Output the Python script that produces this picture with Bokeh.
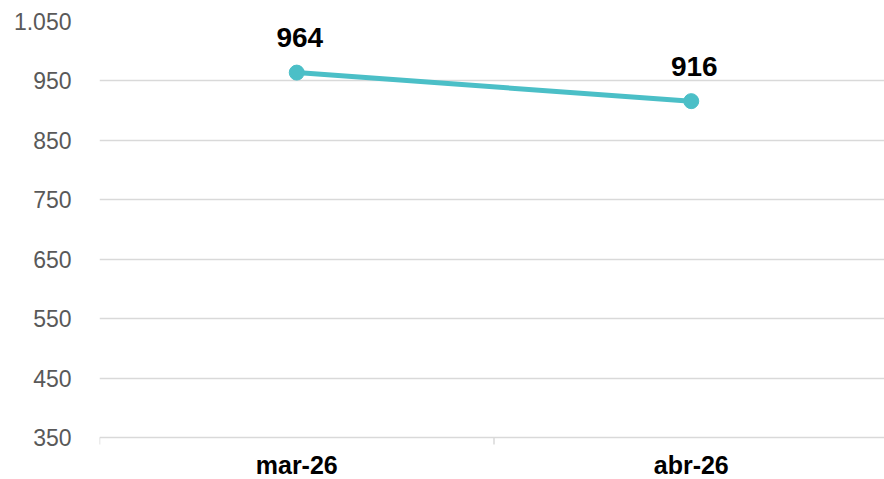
import math
from bokeh.plotting import figure
from bokeh.models import FixedTicker, Range1d, ColumnDataSource
from bokeh.core.properties import value
from bokeh.embed import file_html
from bokeh.resources import INLINE

# Monthly values
months = ["mar-26", "abr-26"]
values = [964, 916]
y_ticks = [350, 450, 550, 650, 750, 850, 950, 1050]

FONT = "Liberation Sans"
TEAL = "#4BBFC7"
GRID = "#D9D9D9"

W, H = 884, 479
LEFT, TOP = 99, 21
PLOT_H = 416            # pixels between the lowest and highest tick
y_lo, y_hi = y_ticks[0], y_ticks[-1]
px_per_unit = PLOT_H / (y_hi - y_lo)
# let the frame run to the bottom edge so the category labels sit inside it
y_start = y_hi - (H - TOP) / px_per_unit

# categories sit at the centre of equal-width bands: 0.5, 1.5, ...
n = len(months)
xs = [i + 0.5 for i in range(n)]
bounds = list(range(n + 1))
src = ColumnDataSource(dict(x=xs, y=values, label=[str(v) for v in values]))
cats = ColumnDataSource(dict(x=xs, y=[y_lo] * n, label=months))
ticks = ColumnDataSource(dict(x=bounds, y=[y_lo] * len(bounds)))

p = figure(width=W, height=H, output_backend="svg", toolbar_location=None,
           x_range=Range1d(0, n * (W - LEFT) / 789), y_range=Range1d(y_start, y_hi),
           x_axis_location=None,
           min_border_left=LEFT, min_border_right=0, min_border_top=TOP, min_border_bottom=0)
p.outline_line_color = None
p.background_fill_color = "white"
p.border_fill_color = "white"

# y axis: labels only, thousands with a dot
p.yaxis.ticker = FixedTicker(ticks=y_ticks)
p.yaxis.major_label_overrides = {v: f"{v:,}".replace(",", ".") for v in y_ticks}
p.yaxis.axis_line_color = None
p.yaxis.major_tick_line_color = None
p.yaxis.minor_tick_line_color = None
p.yaxis.major_tick_out = 0
p.yaxis.major_label_standoff = 28
p.yaxis.major_label_text_font = FONT
p.yaxis.major_label_text_font_size = "23px"
p.yaxis.major_label_text_color = "#595959"

p.xgrid.grid_line_color = None
p.ygrid.ticker = FixedTicker(ticks=y_ticks)
p.ygrid.grid_line_color = GRID
p.ygrid.grid_line_width = 1.5

# small tick marks at the band boundaries, hanging below the base line
p.ray("x", "y", source=ticks, length=7, length_units="screen", angle=-math.pi / 2,
      line_color=GRID, line_width=1.5)

# category labels
p.text("x", "y", text="label", source=cats, text_align="center", text_baseline="alphabetic",
       y_offset=27, text_font=value(FONT), text_font_style="bold",
       text_font_size="25px", text_color="black")

p.line("x", "y", source=src, line_color=TEAL, line_width=5)
p.scatter("x", "y", source=src, size=15, fill_color=TEAL, line_color=TEAL)

# value labels above the points
p.text("x", "y", text="label", source=src, text_align="center", text_baseline="alphabetic",
       x_offset=3, y_offset=-35, text_font=value(FONT), text_font_style="bold",
       text_font_size="28px", text_color="black")

open("out.html", "w").write(file_html(p, INLINE))
